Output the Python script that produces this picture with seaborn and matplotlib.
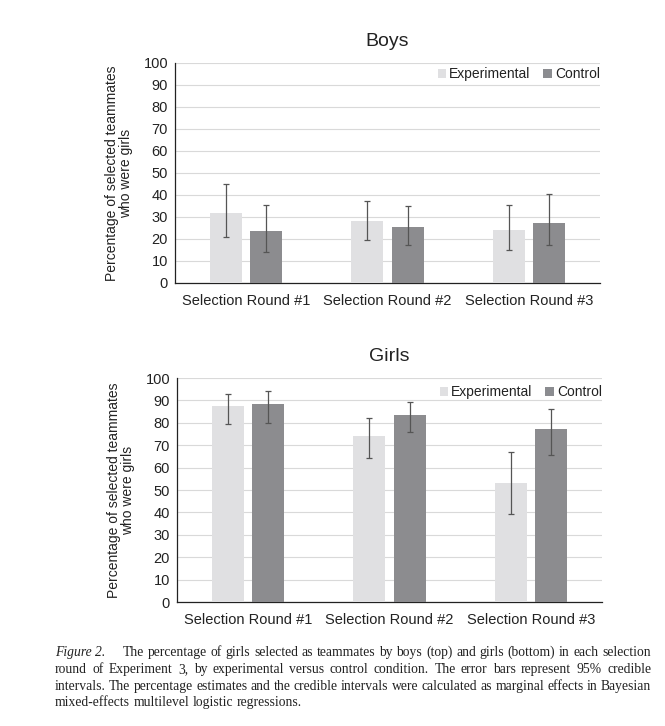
import pandas as pd
import matplotlib
matplotlib.use("Agg")
import matplotlib.pyplot as plt
import seaborn as sns
from matplotlib.patches import Patch

# --- chart values ---
rounds = ["Selection Round #1", "Selection Round #2", "Selection Round #3"]
conditions = ["Experimental", "Control"]

boys_exp = [32.0, 28.0, 24.0]
boys_exp_lo = [21.0, 19.5, 15.0]
boys_exp_hi = [45.0, 37.5, 35.5]
boys_ctrl = [23.5, 25.5, 27.5]
boys_ctrl_lo = [14.0, 17.5, 17.5]
boys_ctrl_hi = [35.5, 35.0, 40.5]

girls_exp = [87.5, 74.0, 53.0]
girls_exp_lo = [79.5, 64.5, 39.5]
girls_exp_hi = [93.0, 82.0, 67.0]
girls_ctrl = [88.5, 83.5, 77.2]
girls_ctrl_lo = [80.0, 76.0, 65.5]
girls_ctrl_hi = [94.0, 89.5, 86.0]

colors = {"Experimental": "#E0E0E2", "Control": "#8B8C90"}
ylabel = "Percentage of selected teammates\nwho were girls"

caption_lines = [
    "The percentage of girls selected as teammates by boys (top) and girls (bottom) in each selection",
    "round of Experiment 3, by experimental versus control condition. The error bars represent 95% credible",
    "intervals. The percentage estimates and the credible intervals were calculated as marginal effects in Bayesian",
    "mixed-effects multilevel logistic regressions.",
]

sns.set_theme(style="white")
plt.rcParams["font.family"] = ["Liberation Sans", "DejaVu Sans"]
plt.rcParams["text.color"] = "#222222"

fig = plt.figure(figsize=(6.65, 7.26), dpi=100)
W, H = 665, 726


def panel(rect, title, exp, exp_lo, exp_hi, ctrl, ctrl_lo, ctrl_hi, leg_y):
    ax = fig.add_axes(rect)
    df = pd.DataFrame({
        "Round": rounds * 2,
        "Condition": ["Experimental"] * 3 + ["Control"] * 3,
        "Value": exp + ctrl,
    })
    sns.barplot(data=df, x="Round", y="Value", hue="Condition",
                hue_order=conditions, order=rounds, palette=colors,
                width=0.572, gap=0.21, errorbar=None, legend=False,
                linewidth=0, ax=ax, zorder=3)
    # credible intervals on the bars seaborn placed
    for cont, vals, lo, hi in zip(ax.containers, [exp, ctrl],
                                  [exp_lo, ctrl_lo], [exp_hi, ctrl_hi]):
        xs = [b.get_x() + b.get_width() / 2 for b in cont]
        err = [[v - l for v, l in zip(vals, lo)], [h - v for v, h in zip(vals, hi)]]
        ax.errorbar(xs, vals, yerr=err, fmt="none", ecolor="#555555",
                    elinewidth=0.9, capsize=2.0, capthick=0.9, zorder=4)

    ax.set_ylim(0, 100)
    ax.set_xlim(-0.5, 2.5)
    ax.set_yticks(range(0, 101, 10))
    ax.yaxis.grid(True, color="#D9D9D9", linewidth=0.8, zorder=0)
    ax.set_axisbelow(True)
    for s in ["top", "right"]:
        ax.spines[s].set_visible(False)
    for s in ["left", "bottom"]:
        ax.spines[s].set_color("#222222")
        ax.spines[s].set_linewidth(0.9)
    ax.tick_params(axis="both", length=0, labelsize=10.5, colors="#222222", pad=5)
    ax.tick_params(axis="x", pad=8)
    ax.set_xlabel("")
    ax.set_ylabel(ylabel, fontsize=10, linespacing=1.05, color="#222222")
    ax.yaxis.set_label_coords(-0.098, 0.5)
    ax.set_title(title, fontsize=14, pad=12, color="#222222")

    handles = [Patch(facecolor=colors[c], edgecolor="none", label=c) for c in conditions]
    ax.legend(handles=handles, loc="center right", bbox_to_anchor=(1.0, leg_y),
              ncol=2, frameon=False, fontsize=10, handlelength=0.6,
              handleheight=0.6, handletextpad=0.25, columnspacing=0.9,
              borderaxespad=0, borderpad=0)
    return ax


panel([175 / W, 1 - 283 / H, 425 / W, 220 / H], "Boys",
      boys_exp, boys_exp_lo, boys_exp_hi, boys_ctrl, boys_ctrl_lo, boys_ctrl_hi, 0.95)
panel([177 / W, 1 - 602 / H, 425 / W, 224 / H], "Girls",
      girls_exp, girls_exp_lo, girls_exp_hi, girls_ctrl, girls_ctrl_lo, girls_ctrl_hi, 0.9375)

# --- justified caption ---
cap_font = dict(family=["Liberation Serif", "DejaVu Serif"], fontsize=9.8, color="#222222")
renderer = fig.canvas.get_renderer()


def word_w(word, **kw):
    t = fig.text(0, 0, word, **cap_font, **kw)
    w = t.get_window_extent(renderer).width
    t.remove()
    return w


def put_line(text, x0, x1, y, justify=True):
    words = text.split(" ")
    widths = [word_w(w) for w in words]
    if justify and len(words) > 1:
        space = (x1 - x0 - sum(widths)) / (len(words) - 1)
    else:
        space = word_w("a a") - 2 * word_w("a")
    x = x0
    for w, wd in zip(words, widths):
        fig.text(x / W, 1 - y / H, w, va="baseline", ha="left", **cap_font)
        x += wd + space


left, right = 55, 651
fig.text(left / W, 1 - 656 / H, "Figure 2.", va="baseline", ha="left",
         style="italic", **cap_font)
put_line(caption_lines[0], 123, right, 656)
put_line(caption_lines[1], left, right, 673)
put_line(caption_lines[2], left, right, 690)
put_line(caption_lines[3], left, right, 706, justify=False)

fig.savefig("out.png", dpi=100, facecolor="white")
